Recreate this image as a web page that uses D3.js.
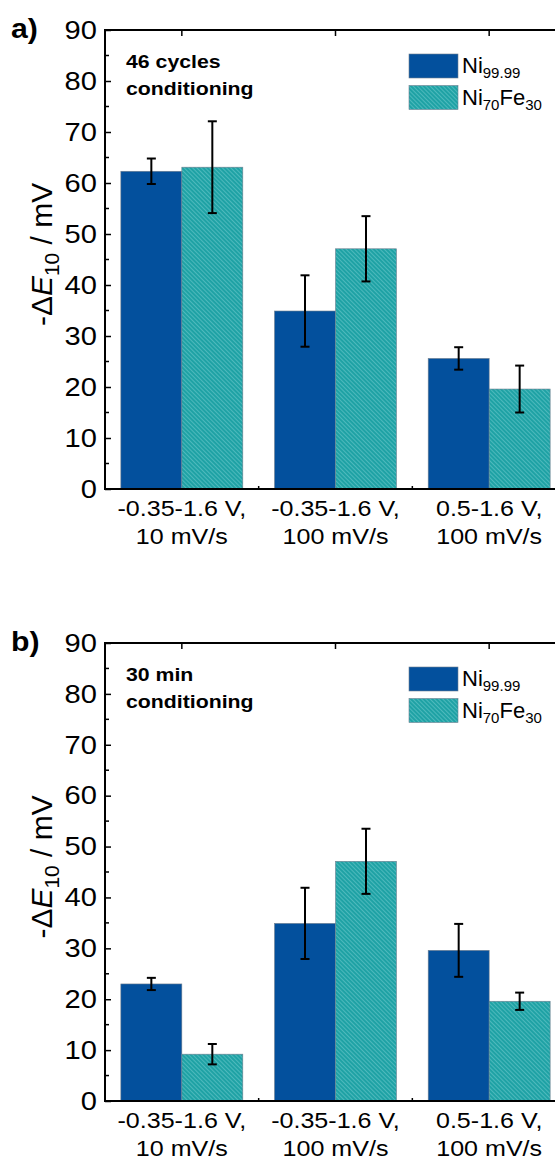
<!DOCTYPE html>
<html>
<head>
<meta charset="utf-8">
<script src="https://cdn.jsdelivr.net/npm/d3@7"></script>
<style>
  body { margin: 0; background: #fff; }
  svg { display: block; font-family: "Liberation Sans", Arial, sans-serif; }
</style>
</head>
<body>
<script>
// categories and series
var categories = ["-0.35-1.6 V,|10 mV/s", "-0.35-1.6 V,|100 mV/s", "0.5-1.6 V,|100 mV/s"];
var seriesNames = ["Ni99.99", "Ni70Fe30"];
var yTicks = [0, 10, 20, 30, 40, 50, 60, 70, 80, 90];

// panel a) 46 cycles conditioning
var aNi = [62.3, 34.9, 25.6];
var aNiErr = [2.5, 7.0, 2.2];
var aNiFe = [63.1, 47.1, 19.6];
var aNiFeErr = [9.0, 6.4, 4.6];

// panel b) 30 min conditioning
var bNi = [23.0, 34.9, 29.6];
var bNiErr = [1.2, 7.0, 5.2];
var bNiFe = [9.2, 47.1, 19.6];
var bNiFeErr = [2.0, 6.4, 1.7];

var width = 555, height = 1162;
var blue = "#03509d";
var teal = "#1fa2a5";
var K = 1.12; // the original text is a bit wide

var svg = d3.select("body").append("svg")
  .attr("width", width)
  .attr("height", height);

var defs = svg.append("defs");
var pat = defs.append("pattern")
  .attr("id", "hatch")
  .attr("patternUnits", "userSpaceOnUse")
  .attr("width", 3).attr("height", 3)
  .attr("patternTransform", "rotate(45)");
pat.append("rect").attr("width", 3).attr("height", 3).attr("fill", teal);
pat.append("line")
  .attr("x1", 0).attr("y1", 0).attr("x2", 3).attr("y2", 0)
  .attr("stroke", "#6cc9cb").attr("stroke-width", 1.2);

// widen text horizontally around its x position
function stretch(sel) {
  sel.each(function () {
    var t = d3.select(this);
    var x = +t.attr("x") || 0;
    t.attr("x", x / K).attr("transform", (t.attr("transform") || "") + " scale(" + K + ",1)");
    t.selectAll("tspan").each(function () {
      var ts = d3.select(this);
      if (ts.attr("x") != null) ts.attr("x", +ts.attr("x") / K);
    });
  });
}

function panel(top, bottom, letter, note, ni, niErr, nife, nifeErr) {
  var left = 105, right = 566;
  var g = svg.append("g");

  var x = d3.scaleBand().domain(d3.range(categories.length))
    .range([left, right]).paddingInner(0).paddingOuter(0);
  var y = d3.scaleLinear().domain([0, 90]).range([bottom, top]);
  var sub = d3.scaleBand().domain([0, 1]).range([0, x.bandwidth()]).paddingInner(0).paddingOuter(0.26);

  var data = [];
  categories.forEach(function (c, i) {
    data.push({ i: i, s: 0, v: ni[i], e: niErr[i] });
    data.push({ i: i, s: 1, v: nife[i], e: nifeErr[i] });
  });

  g.selectAll("rect.bar").data(data).enter().append("rect")
    .attr("class", "bar")
    .attr("x", function (d) { return x(d.i) + sub(d.s); })
    .attr("width", sub.bandwidth())
    .attr("y", function (d) { return y(d.v); })
    .attr("height", function (d) { return y(0) - y(d.v); })
    .attr("fill", function (d) { return d.s === 0 ? blue : "url(#hatch)"; })
    .attr("stroke", "#6f7f8f")
    .attr("stroke-width", 0.6);

  // error bars
  var cx = function (d) { return x(d.i) + sub(d.s) + sub.bandwidth() / 2; };
  var eb = g.selectAll("g.err").data(data).enter().append("g").attr("class", "err")
    .attr("stroke", "#000").attr("stroke-width", 2);
  eb.append("line")
    .attr("x1", cx).attr("x2", cx)
    .attr("y1", function (d) { return y(d.v + d.e); })
    .attr("y2", function (d) { return y(d.v - d.e); });
  [1, -1].forEach(function (sgn) {
    eb.append("line")
      .attr("x1", function (d) { return cx(d) - 4.5; })
      .attr("x2", function (d) { return cx(d) + 4.5; })
      .attr("y1", function (d) { return y(d.v + sgn * d.e); })
      .attr("y2", function (d) { return y(d.v + sgn * d.e); });
  });

  // y axis left
  var yAx = g.append("g").attr("transform", "translate(" + left + ",0)")
    .call(d3.axisLeft(y).tickValues(yTicks).tickSize(-6).tickPadding(8).tickFormat(d3.format("d")));
  yAx.select(".domain").remove();
  yAx.selectAll("text").attr("font-size", 26).attr("fill", "#000")
    .attr("font-family", "Liberation Sans, Arial, sans-serif");
  stretch(yAx.selectAll("text"));
  yAx.selectAll("line").attr("stroke", "#000").attr("stroke-width", 1.5);
  // minor ticks
  g.selectAll("line.ymin").data(d3.range(5, 90, 10)).enter().append("line")
    .attr("x1", left).attr("x2", left + 4)
    .attr("y1", function (d) { return y(d); }).attr("y2", function (d) { return y(d); })
    .attr("stroke", "#000").attr("stroke-width", 1.5);

  // top ticks at group centers
  g.selectAll("line.topt").data(d3.range(categories.length)).enter().append("line")
    .attr("x1", function (d) { return x(d) + x.bandwidth() / 2; })
    .attr("x2", function (d) { return x(d) + x.bandwidth() / 2; })
    .attr("y1", top).attr("y2", top + 6)
    .attr("stroke", "#000").attr("stroke-width", 1.5);
  // bottom minor ticks between groups
  g.selectAll("line.botm").data([1, 2]).enter().append("line")
    .attr("x1", function (d) { return x(d); }).attr("x2", function (d) { return x(d); })
    .attr("y1", bottom).attr("y2", bottom - 3)
    .attr("stroke", "#000").attr("stroke-width", 1.5);

  // frame
  g.append("path")
    .attr("d", "M" + right + "," + top + "H" + left + "V" + bottom + "H" + right)
    .attr("fill", "none").attr("stroke", "#000").attr("stroke-width", 2);

  // x labels
  var xl = g.selectAll("text.xl").data(categories).enter().append("text")
    .attr("text-anchor", "middle")
    .attr("font-size", 22.4);
  xl.append("tspan").attr("x", function (d, i) { return x(i) + x.bandwidth() / 2; })
    .attr("y", bottom + 27).text(function (d) { return d.split("|")[0]; });
  xl.append("tspan").attr("x", function (d, i) { return x(i) + x.bandwidth() / 2; })
    .attr("y", bottom + 55.5).text(function (d) { return d.split("|")[1]; });
  stretch(xl);

  // y label
  var yl = g.append("text")
    .attr("transform", "translate(52," + (y(46)) + ") rotate(-90)")
    .attr("text-anchor", "middle").attr("font-size", 30);
  yl.append("tspan").text("-\u0394");
  yl.append("tspan").attr("font-style", "italic").text("E");
  yl.append("tspan").attr("font-size", 21).attr("dy", 7).text("10");
  yl.append("tspan").attr("dy", -7).text(" / mV");

  // panel letter
  stretch(g.append("text").attr("x", 11).attr("y", top + 8)
    .attr("font-size", 27).attr("font-weight", "bold").text(letter));

  // note
  stretch(g.append("text").attr("x", 126).attr("y", top + 38)
    .attr("font-size", 19).attr("font-weight", "bold").text(note[0]));
  stretch(g.append("text").attr("x", 126).attr("y", top + 65)
    .attr("font-size", 19).attr("font-weight", "bold").text(note[1]));

  // legend
  var leg = g.selectAll("g.leg").data(seriesNames).enter().append("g")
    .attr("transform", function (d, i) { return "translate(409," + (top + 24 + i * 31.5) + ")"; });
  leg.append("rect").attr("width", 49).attr("height", 24)
    .attr("fill", function (d, i) { return i === 0 ? blue : "url(#hatch)"; })
    .attr("stroke", "#6f7f8f").attr("stroke-width", 0.6);
  var lt = leg.append("text").attr("x", 53).attr("y", 19).attr("font-size", 22);
  lt.each(function (d, i) {
    var t = d3.select(this);
    if (i === 0) {
      t.append("tspan").text("Ni");
      t.append("tspan").attr("font-size", 15).attr("dy", 5).text("99.99");
    } else {
      t.append("tspan").text("Ni");
      t.append("tspan").attr("font-size", 15).attr("dy", 5).text("70");
      t.append("tspan").attr("dy", -5).text("Fe");
      t.append("tspan").attr("font-size", 15).attr("dy", 5).text("30");
    }
  });
}

panel(30, 489, "a)", ["46 cycles", "conditioning"], aNi, aNiErr, aNiFe, aNiFeErr);
panel(643, 1101, "b)", ["30 min", "conditioning"], bNi, bNiErr, bNiFe, bNiFeErr);
</script>
</body>
</html>
